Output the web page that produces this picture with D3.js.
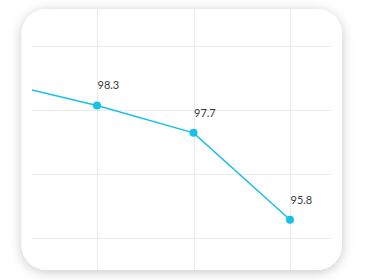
<!DOCTYPE html>
<html>
<head>
<meta charset="utf-8">
<script src="https://cdn.jsdelivr.net/npm/d3@7"></script>
<style>
  html, body { margin: 0; padding: 0; background: #fff; }
  svg { display: block; }
</style>
</head>
<body>
<div id="chart"></div>
<script>
// data
const categories = ["P1", "P2", "P3", "P4"];
const values = [98.8, 98.3, 97.7, 95.8];
const yTicks = [94, 95.4, 96.8, 98.2, 99.6, 101];

const W = 365, H = 280;
const card = { x: 21.5, y: 9, w: 320.5, h: 261, r: 25 };
const plot = { left: 32, right: 332 };

const svg = d3.select("#chart")
    .append("svg")
    .attr("width", W)
    .attr("height", H);

const defs = svg.append("defs");

const shadow = defs.append("filter")
    .attr("id", "shadow")
    .attr("x", "-20%").attr("y", "-20%")
    .attr("width", "140%").attr("height", "140%");
shadow.append("feDropShadow")
    .attr("dx", 0).attr("dy", 2)
    .attr("stdDeviation", 6)
    .attr("flood-color", "#000")
    .attr("flood-opacity", 0.22);

defs.append("clipPath").attr("id", "cardClip")
    .append("rect")
    .attr("x", card.x).attr("y", card.y)
    .attr("width", card.w).attr("height", card.h)
    .attr("rx", card.r);

defs.append("clipPath").attr("id", "plotClip")
    .append("rect")
    .attr("x", plot.left).attr("y", card.y)
    .attr("width", plot.right - plot.left).attr("height", card.h);

// card
svg.append("rect")
    .attr("x", card.x).attr("y", card.y)
    .attr("width", card.w).attr("height", card.h)
    .attr("rx", card.r)
    .attr("fill", "#fff")
    .attr("filter", "url(#shadow)");

const x = d3.scalePoint()
    .domain(categories)
    .range([0.5, 290]);

const y = d3.scaleLinear()
    .domain([94, 101])
    .range([302, -18]);

const inner = svg.append("g").attr("clip-path", "url(#cardClip)");

// vertical grid
inner.append("g")
    .selectAll("line")
    .data(categories)
    .join("line")
    .attr("x1", d => Math.round(x(d)) + 0.5)
    .attr("x2", d => Math.round(x(d)) + 0.5)
    .attr("y1", card.y)
    .attr("y2", card.y + card.h)
    .attr("stroke", "#ebebeb")
    .attr("stroke-width", 1);

// horizontal grid
inner.append("g")
    .selectAll("line")
    .data(yTicks)
    .join("line")
    .attr("x1", plot.left)
    .attr("x2", plot.right)
    .attr("y1", d => Math.round(y(d)) + 0.5)
    .attr("y2", d => Math.round(y(d)) + 0.5)
    .attr("stroke", "#ebebeb")
    .attr("stroke-width", 1);

const g = inner.append("g").attr("clip-path", "url(#plotClip)");

const line = d3.line()
    .x((d, i) => x(categories[i]))
    .y(d => y(d));

g.append("path")
    .datum(values)
    .attr("d", line)
    .attr("fill", "none")
    .attr("stroke", "#16c1e8")
    .attr("stroke-width", 1.5);

g.selectAll("circle")
    .data(values)
    .join("circle")
    .attr("cx", (d, i) => x(categories[i]))
    .attr("cy", d => y(d))
    .attr("r", 4)
    .attr("fill", "#16c1e8");

g.selectAll("text")
    .data(values)
    .join("text")
    .attr("x", (d, i) => x(categories[i]) + 0.5)
    .attr("y", d => y(d) - 16)
    .attr("font-family", "Lato, sans-serif")
    .attr("font-size", 11)
    .attr("fill", "#3a3a3a")
    .text(d => d.toFixed(1));
</script>
</body>
</html>
